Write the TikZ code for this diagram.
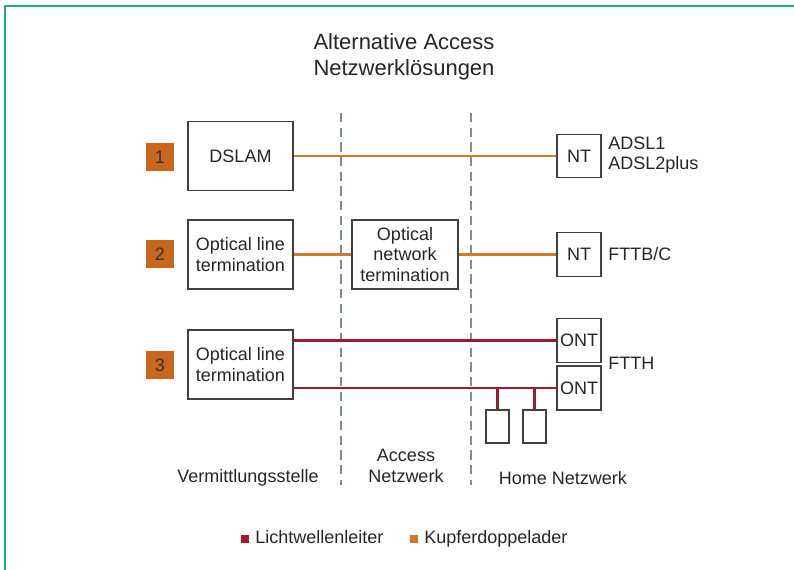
\documentclass[tikz,border=0pt]{standalone}
\usepackage{fontspec}
\setmainfont{Liberation Sans}
\begin{document}
\begin{tikzpicture}[x=0.75pt,y=-0.75pt,
  txt/.style={text=black!85, font=\fontsize{13.5}{15.5}\selectfont, inner sep=0pt},
  box/.style={draw=black!75, line width=0.9pt, fill=white, align=center, txt},
  bigbox/.style={box, minimum width=78.75pt, minimum height=51.75pt},
  ntbox/.style={box, minimum width=33pt, minimum height=32.5pt},
  badge/.style={fill=badgeorange, minimum size=21pt, inner sep=0pt, text=black!80, font=\fontsize{13.5}{15}\selectfont},
  copper/.style={draw=copperline, line width=1.6pt},
  fibre/.style={draw=fibrered, line width=1.6pt},
  divider/.style={draw=dashgray, line width=1.5pt, dash pattern=on 7pt off 4pt},
  legendsq/.style={minimum size=6pt, inner sep=0pt}]
\definecolor{badgeorange}{HTML}{C9681C}
\definecolor{copperline}{HTML}{D4782A}
\definecolor{fibrered}{HTML}{9E1B2E}
\definecolor{dashgray}{HTML}{7E8C99}
\definecolor{framegreen}{HTML}{1BAE82}

\useasboundingbox (0,0) rectangle (794,570);
\fill[white] (0,0) rectangle (794,570);
% open frame, left and top edges
\draw[framegreen, line width=1.6pt] (5,580) -- (5,6) -- (800,6);

% title
\node[txt, font=\fontsize{16.5}{19.5}\selectfont, align=center] (title) at (404,57) {Alternative Access\\Netzwerkl\"osungen};

% zone dividers
\coordinate (d1top) at (341,113);
\coordinate (d1bot) at (341,485);
\coordinate (d2top) at (471,113);
\coordinate (d2bot) at (471,485);
\draw[divider] (d1top) -- (d1bot);
\draw[divider] (d2top) -- (d2bot);

% row 1: DSLAM
\node[badge] (b1) at (160,157) {1};
\node[bigbox] (dslam) at (240.5,156) {DSLAM};
\node[ntbox] (nt1) at (579,156) {NT};
\node[txt, anchor=west, align=left] (l1) at (608,155) {ADSL1\\ADSL2plus};
\draw[copper] (dslam.east) -- (nt1.west);

% row 2: FTTB/C
\node[badge] (b2) at (160,254) {2};
\node[bigbox] (olt2) at (240.5,254.5) {Optical line\\termination};
\node[bigbox, minimum width=79.5pt] (onu) at (405,254.5) {Optical\\network\\termination};
\node[ntbox] (nt2) at (579,254.5) {NT};
\node[txt, anchor=west] (l2) at (608,254) {FTTB/C};
\draw[copper] (olt2.east) -- (onu.west);
\draw[copper] (onu.east) -- (nt2.west);

% row 3: FTTH
\node[badge] (b3) at (160,365) {3};
\node[bigbox] (olt3) at (240.5,364.5) {Optical line\\termination};
\node[ntbox, minimum height=33pt] (onta) at (579,340.5) {ONT};
\node[ntbox, minimum height=33pt] (ontb) at (579,388) {ONT};
\node[txt, anchor=west] (l3) at (608,363) {FTTH};
\node[box, minimum width=17.25pt, minimum height=24.75pt] (sa) at (497.5,426.5) {};
\node[box, minimum width=17.25pt, minimum height=24.75pt] (sb) at (534.5,426.5) {};
\draw[fibre] (olt3.east |- onta.west) -- (onta.west);
\draw[fibre] (olt3.east |- ontb.west) -- (ontb.west);
\draw[fibre] (sa.north) -- (sa.north |- ontb.west);
\draw[fibre] (sb.north) -- (sb.north |- ontb.west);

% zone names
\node[txt] (z1) at (248,478) {Vermittlungsstelle};
\node[txt, align=center] (z2) at (406,466) {Access\\Netzwerk};
\node[txt] (z3) at (563,478) {Home Netzwerk};

% legend
\node[legendsq, fill=fibrered] (k1) at (245,539) {};
\node[txt, anchor=base west] (k1t) at (255,544) {Lichtwellenleiter};
\node[legendsq, fill=copperline] (k2) at (414,539) {};
\node[txt, anchor=base west] (k2t) at (424,544) {Kupferdoppelader};
\end{tikzpicture}
\end{document}
